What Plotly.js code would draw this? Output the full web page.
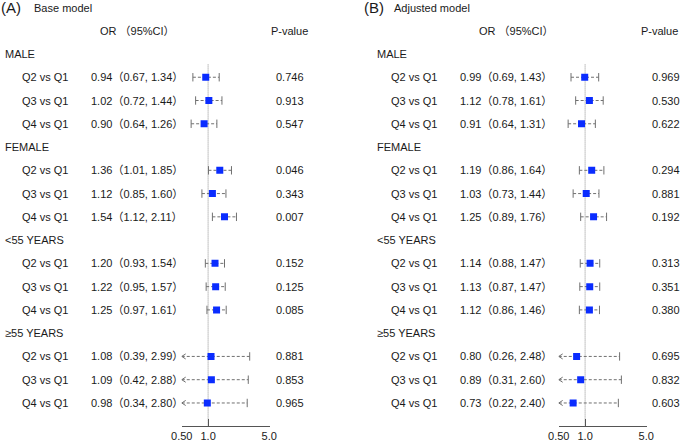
<!DOCTYPE html>
<html><head><meta charset="utf-8">
<script src="https://cdn.plot.ly/plotly-3.0.1.min.js"></script>
<style>html,body{margin:0;padding:0;background:#fff}</style>
</head><body><div id="chart" style="width:685px;height:444px"></div>
<script>
const groups = ['MALE', 'FEMALE', '<55 YEARS', '≥55 YEARS'];
const comps = ['Q2 vs Q1', 'Q3 vs Q1', 'Q4 vs Q1'];

const baseOR = [0.94, 1.02, 0.90, 1.36, 1.12, 1.54, 1.20, 1.22, 1.25, 1.08, 1.09, 0.98];
const baseLo = [0.67, 0.72, 0.64, 1.01, 0.85, 1.12, 0.93, 0.95, 0.97, 0.39, 0.42, 0.34];
const baseHi = [1.34, 1.44, 1.26, 1.85, 1.60, 2.11, 1.54, 1.57, 1.61, 2.99, 2.88, 2.80];
const baseP  = ['0.746', '0.913', '0.547', '0.046', '0.343', '0.007', '0.152', '0.125', '0.085', '0.881', '0.853', '0.965'];

const adjOR = [0.99, 1.12, 0.91, 1.19, 1.03, 1.25, 1.14, 1.13, 1.12, 0.80, 0.89, 0.73];
const adjLo = [0.69, 0.78, 0.64, 0.86, 0.73, 0.89, 0.88, 0.87, 0.86, 0.26, 0.31, 0.22];
const adjHi = [1.43, 1.61, 1.31, 1.64, 1.44, 1.76, 1.47, 1.47, 1.46, 2.48, 2.60, 2.40];
const adjP  = ['0.969', '0.530', '0.622', '0.294', '0.881', '0.192', '0.313', '0.351', '0.380', '0.695', '0.832', '0.603'];

const axisTicks = [0.5, 1, 5];
const axisTickText = ['0.50', '1.0', '5.0'];
const xMin = 0.5, xMax = 5;

const FONT = 'Liberation Sans, Arial, Noto Sans CJK SC, sans-serif';
const TXT = '#1a1a1a';
const GRAY = '#707070';

// row positions: group header then 3 comparisons
const groupRow = groups.map((g, i) => i * 4);
const rowPos = [];
groups.forEach((g, i) => comps.forEach((c, j) => rowPos.push(i * 4 + j + 1)));

function panelTraces(OR, lo, hi, xa) {
  const tr = [];
  // reference line at OR = 1
  tr.push({x: [1, 1], y: [0.45, 16], xaxis: xa, yaxis: 'y', mode: 'lines',
    line: {color: '#8c8c8c', width: 1, dash: '1px,1px'}, hoverinfo: 'skip'});
  const sx = [], sy = [];
  const capX = [], capY = [];
  const chX = [], chY = [];
  const armX = Math.pow(10, Math.log10(xMin) + 0.045);
  OR.forEach((v, i) => {
    const l = Math.max(lo[i], xMin), h = Math.min(hi[i], xMax);
    sx.push(l, h, null); sy.push(rowPos[i], rowPos[i], null);
    capX.push(h); capY.push(rowPos[i]);
    if (lo[i] >= xMin) { capX.push(l); capY.push(rowPos[i]); }
    else {
      chX.push(armX, xMin, armX, null);
      chY.push(rowPos[i] - 0.11, rowPos[i], rowPos[i] + 0.11, null);
    }
  });
  tr.push({x: sx, y: sy, xaxis: xa, yaxis: 'y', mode: 'lines',
    line: {color: GRAY, width: 1, dash: '3px,2px'}, hoverinfo: 'skip'});
  tr.push({x: chX, y: chY, xaxis: xa, yaxis: 'y', mode: 'lines',
    line: {color: GRAY, width: 1}, hoverinfo: 'skip'});
  tr.push({x: capX, y: capY, xaxis: xa, yaxis: 'y', mode: 'markers',
    marker: {symbol: 'line-ns-open', size: 6, color: GRAY, line: {color: GRAY, width: 1}}, hoverinfo: 'skip'});
  tr.push({x: OR, y: rowPos, xaxis: xa, yaxis: 'y', mode: 'markers',
    marker: {symbol: 'square', size: 7, color: '#0a2cff'}, hoverinfo: 'skip'});
  return tr;
}

const fmt = v => v.toFixed(2);
function panelAnn(OR, lo, hi, P, cfg) {
  const a = [];
  const W = 685;
  const A = (x, y, t, size, anchor) => ({xref: 'paper', yref: 'y', x: x / W, y: y, text: t,
    showarrow: false, xanchor: anchor || 'left', yanchor: 'middle', borderpad: 0,
    font: {family: FONT, size: size || 11, color: TXT}});
  a.push(A(cfg.tagX, -1.98, cfg.tag, 15));
  a.push(A(cfg.titleX, -1.98, cfg.title, 11));
  a.push(A(cfg.orHeadX, -0.99, 'OR （95%CI）', 11));
  a.push(A(cfg.pHeadX, -0.99, 'P-value', 11, 'center'));
  groups.forEach((g, i) => a.push(A(cfg.groupX, groupRow[i], g.replace('<', '&lt;'), 11)));
  OR.forEach((v, i) => {
    a.push(A(cfg.rowX, rowPos[i], comps[i % 3], 11));
    a.push(A(cfg.orX, rowPos[i], fmt(v) + '（' + fmt(lo[i]) + ', ' + fmt(hi[i]) + '）', 11));
    a.push(A(cfg.pX, rowPos[i], P[i], 11, 'center'));
  });
  return a;
}

const traces = [].concat(panelTraces(baseOR, baseLo, baseHi, 'x'), panelTraces(adjOR, adjLo, adjHi, 'x2'));
const annotations = [].concat(
  panelAnn(baseOR, baseLo, baseHi, baseP, {tag: '(A)', tagX: 0, title: 'Base model', titleX: 33,
    orHeadX: 99, pHeadX: 289.5, groupX: 4, rowX: 21, orX: 90, pX: 289.5}),
  panelAnn(adjOR, adjLo, adjHi, adjP, {tag: '(B)', tagX: 363, title: 'Adjusted model', titleX: 393,
    orHeadX: 478, pHeadX: 659, groupX: 376, rowX: 390, orX: 459, pX: 666})
);

const eps = 0.003;
const xaxisBase = {type: 'log', range: [Math.log10(xMin) - eps, Math.log10(xMax) + eps], anchor: 'y',
  tickvals: axisTicks, ticktext: axisTickText, ticks: 'inside', ticklen: 7, tickcolor: '#555', tickwidth: 1,
  showline: true, linecolor: '#555', linewidth: 1, showgrid: false, zeroline: false,
  tickfont: {family: FONT, size: 11, color: TXT}, fixedrange: true};

const layout = {
  width: 685, height: 444, margin: {l: 0, r: 0, t: 0, b: 18},
  paper_bgcolor: '#fff', plot_bgcolor: 'rgba(0,0,0,0)', showlegend: false,
  xaxis: Object.assign({}, xaxisBase, {domain: [181.5 / 685, 269.5 / 685]}),
  xaxis2: Object.assign({}, xaxisBase, {domain: [558.5 / 685, 646.5 / 685]}),
  yaxis: {range: [15.99, -2.32], visible: false, showgrid: false, zeroline: false, fixedrange: true},
  annotations: annotations
};

Plotly.newPlot('chart', traces, layout, {staticPlot: true, displayModeBar: false});
</script></body></html>
